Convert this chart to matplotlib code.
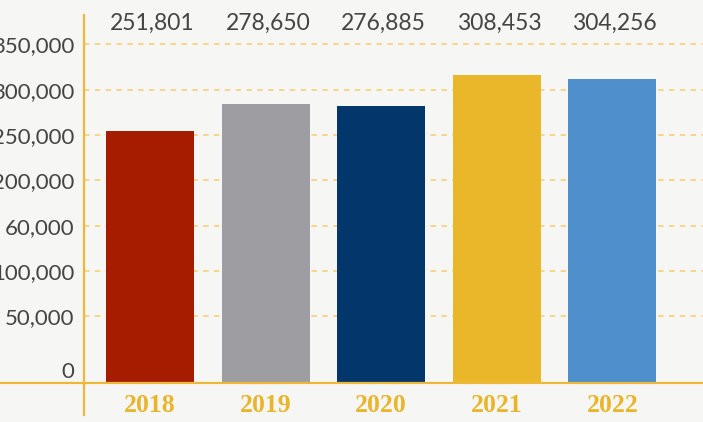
import matplotlib
matplotlib.use("Agg")
import matplotlib.pyplot as plt
from matplotlib.lines import Line2D

# ---- data ----
years = ["2018", "2019", "2020", "2021", "2022"]
values = [251801, 278650, 276885, 308453, 304256]
value_labels = ["251,801", "278,650", "276,885", "308,453", "304,256"]
bar_colors = ["#A61C00", "#9E9DA2", "#03366B", "#EBB72A", "#4F8FCC"]
ytick_labels = ["0", "50,000", "100,000", "60,000", "200,000", "250,000", "300,000", "350,000"]

# ---- layout ----
ytick_pos = [13000, 67000, 112000, 157300, 202700, 248000, 293300, 339000]
label_y = 360000
gold = "#EDB83A"
grid_gold = "#F6D37E"
text_grey = "#444444"
bg = "#F6F6F4"
num_font = ["Lato", "DejaVu Sans"]

fig = plt.figure(figsize=(7.03, 4.22), dpi=100)
fig.patch.set_facecolor(bg)
ax = fig.add_axes([84 / 703, (422 - 383) / 422, (703 - 84) / 703, (383 - 15) / 422])
ax.set_facecolor(bg)

x = list(range(len(years)))
ax.bar(x, values, width=0.76, color=bar_colors, zorder=3)

ax.set_xlim(-0.571, 4.784)
ax.set_ylim(0, 368000)

# gridlines (skip the zero label)
for p in ytick_pos[1:]:
    ax.axhline(p, color=grid_gold, lw=1.3, ls=(0, (3, 3)), zorder=1)

ax.set_yticks(ytick_pos)
ax.set_yticklabels(ytick_labels, fontsize=16, color=text_grey, family=num_font)
ax.tick_params(axis="y", length=0, pad=7)

ax.set_xticks(x)
ax.set_xticklabels(years, fontsize=18.5, color="#E9B52C", fontweight="bold",
                   family=["Liberation Serif", "DejaVu Serif"])
ax.tick_params(axis="x", length=0, pad=8)

for s in ax.spines.values():
    s.set_visible(False)

for xi, lab in zip(x, value_labels):
    ax.text(xi + 0.02, label_y, lab, ha="center", va="center", fontsize=16.5,
            color=text_grey, family=num_font)

# axis lines extending past the plot area
fig.add_artist(Line2D([84 / 703, 84 / 703], [(422 - 415) / 422, (422 - 15) / 422],
                      color=gold, lw=1.6, transform=fig.transFigure))
fig.add_artist(Line2D([0, 1], [(422 - 383) / 422, (422 - 383) / 422],
                      color=gold, lw=1.6, transform=fig.transFigure))

fig.savefig("out.png", dpi=100, facecolor=bg)
